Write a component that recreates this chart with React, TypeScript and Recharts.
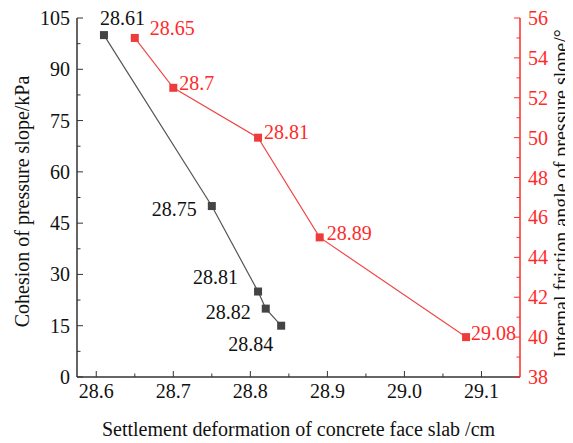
import React from 'react';
import { LineChart, Line, XAxis, YAxis, LabelList } from 'recharts';

const cohesionX = [28.61, 28.75, 28.81, 28.82, 28.84];
const cohesionY = [100, 50, 25, 20, 15];
const frictionX = [28.65, 28.7, 28.81, 28.89, 29.08];
const frictionY = [55, 52.5, 50, 45, 40];

const xMajor = [28.6, 28.7, 28.8, 28.9, 29.0, 29.1];
const xMinor = [28.65, 28.75, 28.85, 28.95, 29.05];
const leftMajor = [0, 15, 30, 45, 60, 75, 90, 105];
const leftMinor = [7.5, 22.5, 37.5, 52.5, 67.5, 82.5, 97.5];
const rightMajor = [38, 40, 42, 44, 46, 48, 50, 52, 54, 56];
const rightMinor = [39, 41, 43, 45, 47, 49, 51, 53, 55];

const cohesionData = cohesionX.map((x, i) => ({ x, y: cohesionY[i] }));
const frictionData = frictionX.map((x, i) => ({ x, y: frictionY[i] }));

const TS: React.CSSProperties = { fontFamily: "'Liberation Serif', 'Times New Roman', serif", fontSize: 20 };
const DARK = '#333333';
const RED = '#ff2a2a';

// label placement (style only): [dx, dy, anchor]
const cohesionLabelPos: [number, number, string][] = [
  [-4, -10, 'start'],
  [-15, 10, 'end'],
  [-20, -8, 'end'],
  [-15, 10, 'end'],
  [-8, 25, 'end'],
];
const frictionLabelPos: [number, number, string][] = [
  [15, -3, 'start'],
  [6, 2, 'start'],
  [6, 1, 'start'],
  [7, 3, 'start'],
  [5, 3, 'start'],
];

const fmtX = (v: number) => v.toFixed(1);
const fmtInt = (v: number) => String(v);

const makeTick = (orient: 'left' | 'right' | 'bottom', majors: number[], fmt: (v: number) => string, color: string, textColor: string) =>
  (props: any) => {
    const { x, y, payload } = props;
    const v = payload.value;
    const isMajor = majors.some((m) => Math.abs(m - v) < 1e-6);
    const len = isMajor ? 6 : 3.5;
    if (orient === 'left') {
      return (
        <g>
          <line x1={x} x2={x + len} y1={y} y2={y} stroke={color} strokeWidth={1} />
          {isMajor && (
            <text x={x - 7} y={y} dy="0.35em" textAnchor="end" style={TS} fill={textColor}>
              {fmt(v)}
            </text>
          )}
        </g>
      );
    }
    if (orient === 'right') {
      return (
        <g>
          <line x1={x} x2={x - len} y1={y} y2={y} stroke={color} strokeWidth={1} />
          {isMajor && (
            <text x={x + 8} y={y} dy="0.35em" textAnchor="start" style={TS} fill={textColor}>
              {fmt(v)}
            </text>
          )}
        </g>
      );
    }
    return (
      <g>
        <line x1={x} x2={x} y1={y} y2={y - len} stroke={color} strokeWidth={1} />
        {isMajor && (
          <text x={x} y={y + 21} textAnchor="middle" style={TS} fill={textColor}>
            {fmt(v)}
          </text>
        )}
      </g>
    );
  };

const SquareDot = (fill: string) => (props: any) => {
  const { cx, cy, index } = props;
  if (cx == null || cy == null) return <g key={index} />;
  return <rect key={index} x={cx - 4} y={cy - 4} width={8} height={8} fill={fill} />;
};

const makeLabel = (pos: [number, number, string][], color: string, values: number[]) => (props: any) => {
  const { x, y, index } = props;
  const p = pos[index];
  return (
    <text x={x + p[0]} y={y + p[1]} textAnchor={p[2] as any} style={TS} fill={color}>
      {String(values[index])}
    </text>
  );
};

export default function App() {
  return (
    <LineChart width={565} height={435} margin={{ top: 10, right: 0, bottom: 0, left: 0 }}>
      <XAxis
        dataKey="x"
        type="number"
        domain={[28.575, 29.15]}
        ticks={[...xMajor, ...xMinor].sort((a, b) => a - b)}
        interval={0}
        allowDataOverflow
        height={66}
        tickSize={0}
        tickMargin={0}
        tickLine={false}
        axisLine={{ stroke: DARK, strokeWidth: 1.5 }}
        tick={makeTick('bottom', xMajor, fmtX, DARK, '#111')}
        label={{
          content: (p: any) => {
            const vb = p.viewBox;
            return (
              <text x={vb.x + vb.width / 2} y={vb.y + 59} textAnchor="middle" style={TS} fill="#111">
                Settlement deformation of concrete face slab /cm
              </text>
            );
          },
        }}
      />
      <YAxis
        yAxisId="left"
        orientation="left"
        type="number"
        domain={[0, 105]}
        ticks={[...leftMajor, ...leftMinor].sort((a, b) => a - b)}
        interval={0}
        width={69}
        tickSize={0}
        tickMargin={0}
        tickLine={false}
        axisLine={{ stroke: DARK, strokeWidth: 1.5 }}
        tick={makeTick('left', leftMajor, fmtInt, DARK, '#111')}
        label={{
          content: (p: any) => {
            const vb = p.viewBox;
            const cx = vb.x + 14;
            const cy = vb.y + vb.height / 2 + 4;
            return (
              <text x={cx} y={cy} transform={`rotate(-90 ${cx} ${cy})`} dy="0.35em" textAnchor="middle" style={TS} fill="#111">
                Cohesion of pressure slope/kPa
              </text>
            );
          },
        }}
      />
      <YAxis
        yAxisId="right"
        orientation="right"
        type="number"
        domain={[38, 56]}
        ticks={[...rightMajor, ...rightMinor].sort((a, b) => a - b)}
        interval={0}
        width={53}
        tickSize={0}
        tickMargin={0}
        tickLine={false}
        axisLine={{ stroke: RED, strokeWidth: 1.5 }}
        tick={makeTick('right', rightMajor, fmtInt, RED, RED)}
        label={{
          content: (p: any) => {
            const vb = p.viewBox;
            const cx = vb.x + 41;
            const cy = vb.y + vb.height / 2 - 4;
            return (
              <text x={cx} y={cy} transform={`rotate(-90 ${cx} ${cy})`} dy="0.35em" textAnchor="middle" style={TS} fill="#111">
                Internal friction angle of pressure slope/°
              </text>
            );
          },
        }}
      />
      <Line
        yAxisId="left"
        data={cohesionData}
        dataKey="y"
        type="linear"
        stroke="#555555"
        strokeWidth={1.2}
        dot={SquareDot('#444444')}
        activeDot={false}
        isAnimationActive={false}
      >
        <LabelList dataKey="y" content={makeLabel(cohesionLabelPos, '#111', cohesionX)} />
      </Line>
      <Line
        yAxisId="right"
        data={frictionData}
        dataKey="y"
        type="linear"
        stroke="#f04848"
        strokeWidth={1.2}
        dot={SquareDot('#ee3b3b')}
        activeDot={false}
        isAnimationActive={false}
      >
        <LabelList dataKey="y" content={makeLabel(frictionLabelPos, RED, frictionX)} />
      </Line>
    </LineChart>
  );
}
